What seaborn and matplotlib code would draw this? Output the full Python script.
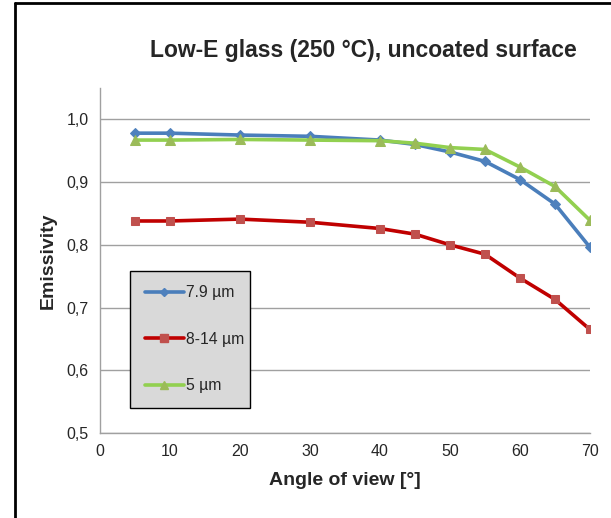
import pandas as pd
import seaborn as sns
import matplotlib.pyplot as plt
from matplotlib.lines import Line2D

# Emissivity vs viewing angle
angle = [5, 10, 20, 30, 40, 45, 50, 55, 60, 65, 70]
em_79 = [0.978, 0.978, 0.975, 0.973, 0.967, 0.960, 0.948, 0.933, 0.904, 0.865, 0.796]
em_814 = [0.838, 0.838, 0.841, 0.836, 0.826, 0.817, 0.800, 0.785, 0.747, 0.713, 0.665]
em_5 = [0.967, 0.967, 0.968, 0.967, 0.966, 0.962, 0.955, 0.952, 0.924, 0.893, 0.839]

y_ticks = [0.5, 0.6, 0.7, 0.8, 0.9, 1.0]
x_ticks = [0, 10, 20, 30, 40, 50, 60, 70]

sns.set_style('white')
plt.rcParams['font.family'] = ['Liberation Sans', 'DejaVu Sans']

fig = plt.figure(figsize=(6.11, 5.18), dpi=100)
ax = fig.add_axes([0.1637, 0.1641, 0.8019, 0.666])

series = [
    ('7.9 µm', em_79, '#4a7ebb', '#4f81bd', 'D', 5, 4),
    ('8-14 µm', em_814, '#c00000', '#c0504d', 's', 6, 6),
    ('5 µm', em_5, '#92d050', '#9bbb59', '^', 6.5, 6),
]
handles = []
for label, vals, lc, mc, mk, ms, lms in series:
    df = pd.DataFrame({'angle': angle, 'em': vals})
    sns.lineplot(data=df, x='angle', y='em', ax=ax, color=lc, linewidth=2.6,
                 marker=mk, markersize=ms, markerfacecolor=mc, markeredgecolor=mc)
    handles.append(Line2D([], [], color=lc, linewidth=2.6, marker=mk,
                          markersize=lms, markerfacecolor=mc, markeredgecolor=mc))

ax.set_xlim(0, 70)
ax.set_ylim(0.5, 1.05)
ax.set_xticks(x_ticks)
ax.set_yticks(y_ticks)
ax.set_yticklabels([f'{v:.1f}'.replace('.', ',') for v in y_ticks])
ax.tick_params(axis='y', length=5, color='#a0a0a0', labelsize=11.5, pad=3)
ax.tick_params(axis='x', length=0, labelsize=11.5, pad=8)
ax.grid(axis='y', color='#a0a0a0', linewidth=1)
ax.set_axisbelow(True)
for s in ['top', 'right']:
    ax.spines[s].set_visible(False)
for s in ['left', 'bottom']:
    ax.spines[s].set_color('#a0a0a0')
    ax.spines[s].set_linewidth(1)

ax.set_xlabel('Angle of view [°]', fontsize=14, fontweight='bold', labelpad=9)
ax.set_ylabel('Emissivity', fontsize=14, fontweight='bold', labelpad=7)

leg = ax.legend(handles, [s[0] for s in series], loc='lower left',
                bbox_to_anchor=(0.061, 0.072, 0.245, 0.409), mode='expand',
                frameon=True, fancybox=False, fontsize=11.3, handlelength=2.5,
                handletextpad=0.1, labelspacing=2.0, borderpad=0.95,
                borderaxespad=0)
leg.get_frame().set_facecolor('#d9d9d9')
leg.get_frame().set_edgecolor('black')
leg.get_frame().set_linewidth(1)
leg.get_frame().set_alpha(1)

fig.text(0.594, 0.903, 'Low-E glass (250 °C), uncoated surface',
         fontsize=16.5, fontweight='bold', ha='center', va='center')

# screenshot frame
fig.add_artist(Line2D([0.0245, 0.0245], [0, 0.994], color='black', linewidth=2))
fig.add_artist(Line2D([0.0245, 1.0], [0.994, 0.994], color='black', linewidth=2))

fig.savefig('out.png', dpi=100)
